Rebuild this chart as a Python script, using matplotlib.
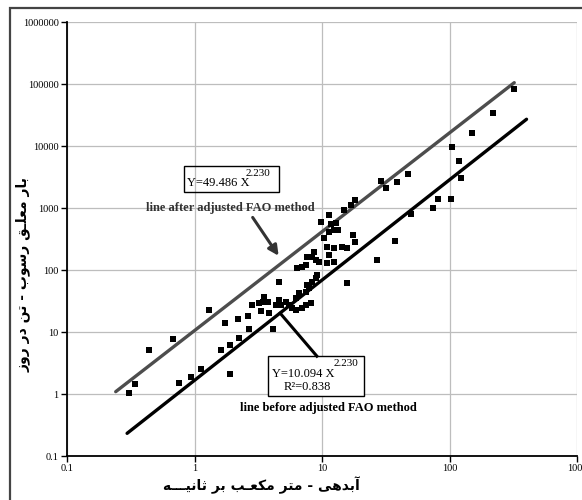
import matplotlib
matplotlib.use("Agg")
import matplotlib.pyplot as plt
from matplotlib.patches import Rectangle
from matplotlib.ticker import FixedLocator, FuncFormatter

# observed discharge (m3/s) and suspended load (ton/day)
discharge = [0.307, 0.340, 0.438, 0.676, 0.75, 0.94, 1.13, 1.31, 1.75, 1.91,
             2.21, 2.62, 2.69, 2.85, 3.32, 3.52, 3.22, 3.74, 3.85, 4.14,
             4.61, 4.61, 4.76, 5.20, 5.52, 4.35, 3.42, 5.86, 6.23, 7.02,
             7.46, 8.16, 6.23, 6.61, 7.46, 7.91, 7.67, 8.40, 8.93, 9.19,
             6.41, 7.02, 7.46, 7.67, 8.40, 9.48, 8.66, 11.0, 11.3, 12.4,
             9.02, 15.8, 27.0, 9.82, 11.3, 11.7, 12.4, 11.3, 13.4, 10.4,
             11.0, 12.4, 14.4, 15.8, 14.9, 16.8, 18.3, 12.8, 17.6, 18.3,
             28.8, 32.0, 38.7, 47.2, 37.5, 50.0, 73.6, 81.1, 103, 105,
             118, 122, 149, 218, 318, 1.60, 1.91, 2.25]
load = [1.03, 1.45, 5.1, 7.7, 1.49, 1.90, 2.53, 22.6, 13.9, 2.13,
        16.4, 18.1, 11.1, 27.3, 21.8, 37.1, 29.7, 30.8, 20.0, 11.1,
        64.8, 32.8, 27.3, 30.8, 27.3, 27.3, 30.8, 24.1, 22.6, 24.1,
        27.3, 29.0, 35.0, 42.1, 44.7, 50.7, 57.3, 64.8, 73.5, 83.0,
        106, 113, 120, 160, 164, 136, 197, 128, 175, 136,
        145, 61.0, 145, 584, 771, 552, 442, 415, 442, 324,
        238, 224, 232, 229, 929, 1117, 1346, 566, 367, 286,
        2725, 2078, 2626, 3600, 299, 800, 989, 1423, 1423, 9640,
        5730, 3047, 16030, 33700, 82200, 5.1, 6.2, 8.0]

# rating curves as drawn (end points)
after_x = [0.241, 322]
after_y = [1.09, 105000]
before_x = [0.296, 402]
before_y = [0.232, 27000]

x_ticks = [0.1, 1, 10, 100, 1000]
y_ticks = [0.1, 1, 10, 100, 1000, 10000, 100000, 1000000]

# Persian labels written in visual (shaped) order
x_label = ("\uFEEA\u0640\u0640\u0640\uFEF4\uFEE7\uFE8E\uFE9B \uFEAE\uFE91 "
           "\uFE90\u0640\uFECC\uFEDC\uFEE3 \uFEAE\uFE98\uFEE3 - "
           "\uFEF0\uFEEB\uFEAA\uFE91\uFE81")
y_label = ("\uFEAF\uFEED\uFEAD \uFEAD\uFEA9 \uFEE6\uFE97 - "
           "\uFE8F\uFEEE\uFEB3\uFEAD \uFED6\u0640\uFEE0\uFECC\uFEE3 "
           "\uFEAD\uFE8E\uFE91")

serif = ["Liberation Serif", "DejaVu Serif"]


def tick_text(v, pos):
    if v >= 1:
        return "%d" % round(v)
    return "%g" % v


fig = plt.figure(figsize=(5.82, 5.0), dpi=100)
ax = fig.add_axes([67 / 582, 44 / 500, 510 / 582, 434 / 500])

ax.set_xscale("log")
ax.set_yscale("log")
ax.set_xlim(0.1, 1000)
ax.set_ylim(0.1, 1000000)

ax.plot(after_x, after_y, color="#4d4d4d", lw=2.4, solid_capstyle="round", zorder=3)
ax.plot(before_x, before_y, color="black", lw=2.4, solid_capstyle="round", zorder=3)
ax.scatter(discharge, load, marker="s", s=13, color="black", linewidths=0, zorder=4)

ax.xaxis.set_major_locator(FixedLocator(x_ticks))
ax.yaxis.set_major_locator(FixedLocator(y_ticks))
ax.xaxis.set_major_formatter(FuncFormatter(tick_text))
ax.yaxis.set_major_formatter(FuncFormatter(tick_text))
ax.minorticks_off()
ax.tick_params(axis="both", length=4, width=1, labelsize=7.5, pad=2)
for lbl in ax.get_xticklabels() + ax.get_yticklabels():
    lbl.set_family(serif)

ax.grid(True, color="#bdbdbd", lw=0.9)
ax.set_axisbelow(True)
for side in ["top", "right"]:
    ax.spines[side].set_visible(False)
for side in ["left", "bottom"]:
    ax.spines[side].set_linewidth(1.3)

fig.text(261 / 582, 1 - 485 / 500, x_label, ha="center", va="center",
         fontsize=10, fontweight="bold", family=["DejaVu Sans"])
fig.text(23 / 582, 1 - 275 / 500, y_label, ha="center", va="center",
         rotation=90, fontsize=10, fontweight="bold", family=["DejaVu Sans"])

# upper equation box
ax.add_patch(Rectangle((0.229, 0.608), 0.186, 0.060, transform=ax.transAxes,
                       fill=False, lw=1, ec="black", zorder=5))
ax.text(0.236, 0.630, "Y=49.486 X", transform=ax.transAxes, ha="left", va="center",
        fontsize=9, family=serif, zorder=6)
ax.text(0.350, 0.652, "2.230", transform=ax.transAxes, ha="left", va="center",
        fontsize=8, family=serif, zorder=6)
ax.text(0.155, 0.571, "line after adjusted FAO method", transform=ax.transAxes,
        ha="left", va="center", fontsize=9, fontweight="bold", family=serif,
        color="#333333", zorder=6)
ax.annotate("", xy=(0.418, 0.456), xytext=(0.361, 0.555),
            xycoords="axes fraction", textcoords="axes fraction",
            arrowprops=dict(arrowstyle="-|>,head_length=0.6,head_width=0.3",
                            color="#333333", lw=2.2), zorder=6)

# lower equation box
ax.add_patch(Rectangle((0.394, 0.138), 0.188, 0.092, transform=ax.transAxes,
                       fc="white", lw=1, ec="black", zorder=5))
ax.text(0.402, 0.189, "Y=10.094 X", transform=ax.transAxes, ha="left", va="center",
        fontsize=9, family=serif, zorder=6)
ax.text(0.522, 0.214, "2.230", transform=ax.transAxes, ha="left", va="center",
        fontsize=8, family=serif, zorder=6)
ax.text(0.424, 0.160, "R\u00b2=0.838", transform=ax.transAxes, ha="left", va="center",
        fontsize=9, family=serif, zorder=6)
ax.text(0.339, 0.111, "line before adjusted FAO method", transform=ax.transAxes,
        ha="left", va="center", fontsize=9, fontweight="bold", family=serif,
        zorder=6)
ax.plot([0.418, 0.490], [0.329, 0.230], transform=ax.transAxes, color="black",
        lw=2.2, zorder=6)

# outer frame of the picture
fig.patches.append(Rectangle((10 / 582, -0.05), 1.0, 1.034, transform=fig.transFigure,
                             fill=False, ec="#444444", lw=1.6))

fig.savefig("out.png", dpi=100)
